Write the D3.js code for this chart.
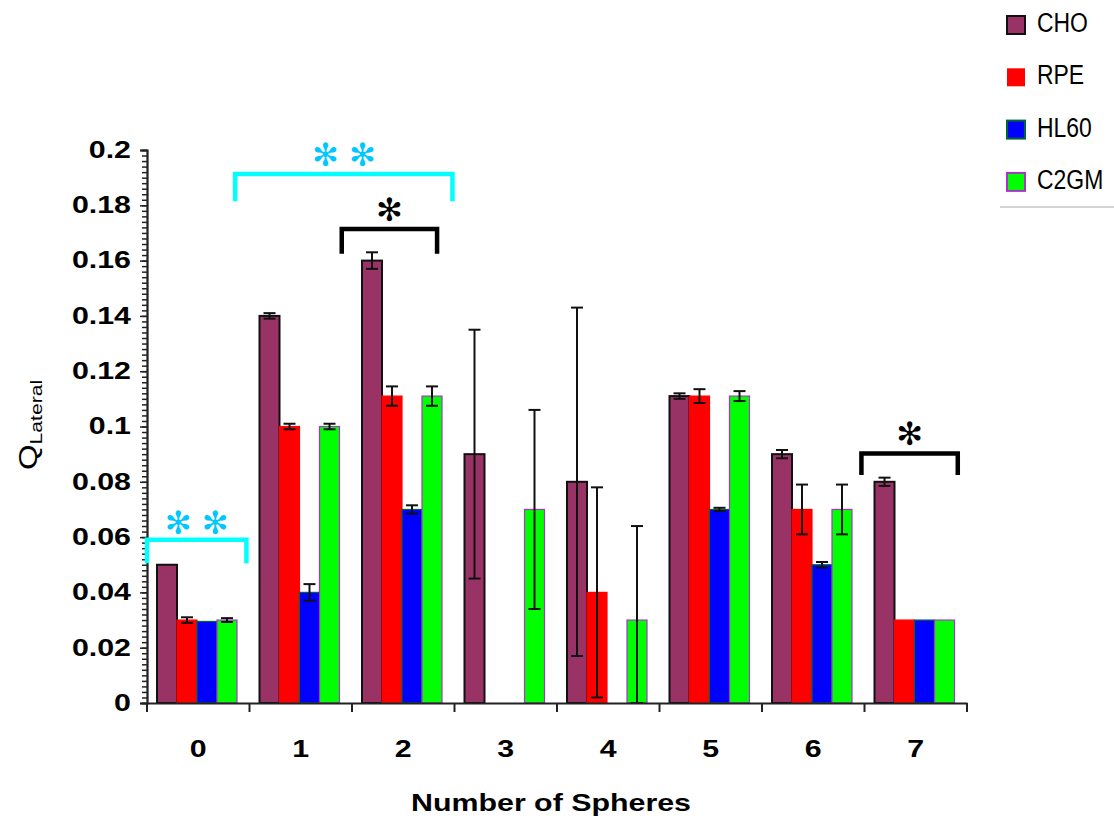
<!DOCTYPE html>
<html>
<head>
<meta charset="utf-8">
<script src="https://cdn.jsdelivr.net/npm/d3@7"></script>
<style>
  body { margin: 0; background: #fff; }
  svg { display: block; font-family: Arial, "Liberation Sans", sans-serif; }
</style>
</head>
<body>
<div id="chart"></div>
<script>
// ---------------------------------------------------------------------------
// Data
// ---------------------------------------------------------------------------
const groups = ["0", "1", "2", "3", "4", "5", "6", "7"];
const seriesNames = ["CHO", "RPE", "HL60", "C2GM"];

const choValues  = [0.05, 0.14, 0.16, 0.09, 0.08, 0.111, 0.09, 0.08];
const choErrors  = [0, 0.001, 0.003, 0.045, 0.063, 0.001, 0.0015, 0.0015];
const rpeValues  = [0.03, 0.1, 0.111, 0, 0.04, 0.111, 0.07, 0.03];
const rpeErrors  = [0.001, 0.001, 0.0035, 0, 0.038, 0.0025, 0.009, 0];
const hl60Values = [0.0295, 0.04, 0.07, 0, 0, 0.07, 0.05, 0.03];
const hl60Errors = [0, 0.003, 0.0015, 0, 0, 0.0006, 0.001, 0];
const c2gmValues = [0.03, 0.1, 0.111, 0.07, 0.03, 0.111, 0.07, 0.03];
const c2gmErrors = [0.0007, 0.001, 0.0035, 0.036, 0.034, 0.0018, 0.009, 0];

const yTicks = [0, 0.02, 0.04, 0.06, 0.08, 0.1, 0.12, 0.14, 0.16, 0.18, 0.2];

// significance brackets: x in group units (0..8), y in data units
const brackets = [
  { x0: 0.0,  x1: 0.97, top: 0.059,  leg: 0.0505, label: "✻ ✻", color: "#00ffff", textColor: "#00c8ff", ly: 0.0645 },
  { x0: 0.86, x1: 2.98, top: 0.1913, leg: 0.1815, label: "✻ ✻", color: "#00ffff", textColor: "#00c8ff", ly: 0.1975 },
  { x0: 1.9,  x1: 2.83, top: 0.1714, leg: 0.1625, label: "✻",   color: "#000000", textColor: "#000000", ly: 0.1775 },
  { x0: 6.97, x1: 7.91, top: 0.0902, leg: 0.0825, label: "✻",   color: "#000000", textColor: "#000000", ly: 0.0965 },
];

const fills   = { CHO: "#993366", RPE: "#ff0000", HL60: "#0000ff", C2GM: "#00ff00" };
const strokes = { CHO: "#111111", RPE: "#ff0000", HL60: "#006633", C2GM: "#aa33cc" };

const valuesBySeries = { CHO: choValues, RPE: rpeValues, HL60: hl60Values, C2GM: c2gmValues };
const errorsBySeries = { CHO: choErrors, RPE: rpeErrors, HL60: hl60Errors, C2GM: c2gmErrors };

const rows = [];
groups.forEach((g, gi) => {
  seriesNames.forEach(s => {
    rows.push({ group: g, series: s, value: valuesBySeries[s][gi], err: errorsBySeries[s][gi] });
  });
});

// ---------------------------------------------------------------------------
// Layout
// ---------------------------------------------------------------------------
const width = 1114, height = 820;
const plotLeft = 147, plotRight = 967, plotTop = 150, plotBottom = 703;
const stretch = 1.32; // the picture's axis text is wide

const svg = d3.select("#chart").append("svg")
  .attr("width", width)
  .attr("height", height);

const x = d3.scaleBand().domain(groups).range([plotLeft, plotRight]).paddingInner(0).paddingOuter(0);
const xInner = d3.scaleBand().domain(seriesNames).range([10, 90]);
const xPos = d3.scaleLinear().domain([0, groups.length]).range([plotLeft, plotRight]);
const y = d3.scaleLinear().domain([0, 0.2]).range([plotBottom, plotTop]);

// bars
svg.append("g")
  .selectAll("rect")
  .data(rows.filter(d => d.value > 0))
  .join("rect")
  .attr("x", d => x(d.group) + xInner(d.series))
  .attr("y", d => y(d.value))
  .attr("width", xInner.bandwidth())
  .attr("height", d => y(0) - y(d.value))
  .attr("fill", d => fills[d.series])
  .attr("stroke", d => strokes[d.series])
  .attr("stroke-width", d => d.series === "CHO" ? 2 : 1.2);

// error bars
const errRows = rows.filter(d => d.err > 0);
const eg = svg.append("g").attr("stroke", "#111").attr("stroke-width", 2);
const cx = d => x(d.group) + xInner(d.series) + xInner.bandwidth() / 2;
eg.selectAll("line.stem").data(errRows).join("line").attr("class", "stem")
  .attr("x1", cx).attr("x2", cx)
  .attr("y1", d => y(d.value + d.err))
  .attr("y2", d => y(Math.max(0, d.value - d.err)));
eg.selectAll("line.capt").data(errRows).join("line").attr("class", "capt")
  .attr("x1", d => cx(d) - 6).attr("x2", d => cx(d) + 6)
  .attr("y1", d => y(d.value + d.err)).attr("y2", d => y(d.value + d.err));
eg.selectAll("line.capb").data(errRows).join("line").attr("class", "capb")
  .attr("x1", d => cx(d) - 6).attr("x2", d => cx(d) + 6)
  .attr("y1", d => y(Math.max(0, d.value - d.err))).attr("y2", d => y(Math.max(0, d.value - d.err)));

// y axis: minor ticks + major ticks with labels
const minorTicks = d3.range(0, 100.5, 1).map(i => i * 0.002);
svg.append("g")
  .attr("transform", `translate(${plotLeft},0)`)
  .call(d3.axisLeft(y).tickValues(minorTicks).tickSize(5).tickFormat(""))
  .call(g => g.selectAll("path,line").attr("stroke", "#222").attr("stroke-width", 1.5));

svg.append("g")
  .attr("transform", `translate(${plotLeft},0)`)
  .call(d3.axisLeft(y).tickValues(yTicks).tickSize(7).tickPadding(9)
    .tickFormat(d => String(+d.toFixed(2))))
  .call(g => g.select(".domain").attr("stroke", "#222").attr("stroke-width", 2))
  .call(g => g.selectAll("line").attr("stroke", "#222").attr("stroke-width", 1.5))
  .call(g => g.selectAll("text")
    .attr("fill", "#000")
    .attr("x", -16 / stretch)
    .attr("transform", `scale(${stretch},1)`)
    .style("font-size", "23px")
    .style("font-weight", "bold"));

// x axis
svg.append("g")
  .attr("transform", `translate(0,${plotBottom})`)
  .call(d3.axisBottom(x).tickSize(0).tickPadding(38))
  .call(g => g.select(".domain").attr("stroke", "#222").attr("stroke-width", 2))
  .call(g => g.selectAll("text")
    .attr("fill", "#000")
    .attr("transform", `scale(${stretch},1)`)
    .style("font-size", "23px")
    .style("font-weight", "bold"));

svg.append("g")
  .selectAll("line")
  .data(d3.range(groups.length + 1))
  .join("line")
  .attr("x1", d => xPos(d)).attr("x2", d => xPos(d))
  .attr("y1", plotBottom).attr("y2", plotBottom + 9)
  .attr("stroke", "#222").attr("stroke-width", 2);

// axis titles
svg.append("text")
  .attr("transform", `translate(${(plotLeft + plotRight) / 2 - 6},811) scale(${stretch},1)`)
  .attr("text-anchor", "middle")
  .style("font-size", "23px")
  .style("font-weight", "bold")
  .text("Number of Spheres");

const yTitle = svg.append("text")
  .attr("transform", `translate(37,425) rotate(-90) scale(${stretch},1)`)
  .attr("text-anchor", "middle")
  .style("font-size", "25px");
yTitle.append("tspan").text("Q");
yTitle.append("tspan").attr("dy", 5).style("font-size", "16px").text("Lateral");

// significance brackets
const bg = svg.append("g");
brackets.forEach(b => {
  bg.append("path")
    .attr("d", `M${xPos(b.x0)},${y(b.leg)}V${y(b.top)}H${xPos(b.x1)}V${y(b.leg)}`)
    .attr("fill", "none")
    .attr("stroke", b.color)
    .attr("stroke-width", 4.5);
  bg.append("text")
    .attr("x", (xPos(b.x0) + xPos(b.x1)) / 2)
    .attr("y", y(b.ly))
    .attr("text-anchor", "middle")
    .attr("dominant-baseline", "middle")
    .attr("fill", b.textColor)
    .style("font-family", "'DejaVu Sans', sans-serif")
    .style("font-size", "32px")
    .text(b.label);
});

// legend
const legend = svg.append("g").attr("transform", "translate(1007,0)");
seriesNames.forEach((s, i) => {
  const row = legend.append("g").attr("transform", `translate(0,${25 + i * 52.3})`);
  row.append("rect")
    .attr("x", 0).attr("y", -9)
    .attr("width", 18).attr("height", 18)
    .attr("fill", fills[s])
    .attr("stroke", s === "RPE" ? "none" : strokes[s])
    .attr("stroke-width", 2);
  row.append("text")
    .attr("x", 30).attr("y", 0)
    .attr("dominant-baseline", "middle")
    .attr("transform", "scale(0.85,1)")
    .attr("transform-origin", "30 0")
    .style("font-size", "27px")
    .text(s);
});
legend.append("line")
  .attr("x1", -7).attr("x2", 107)
  .attr("y1", 207).attr("y2", 207)
  .attr("stroke", "#aaa").attr("stroke-width", 1);
</script>
</body>
</html>
